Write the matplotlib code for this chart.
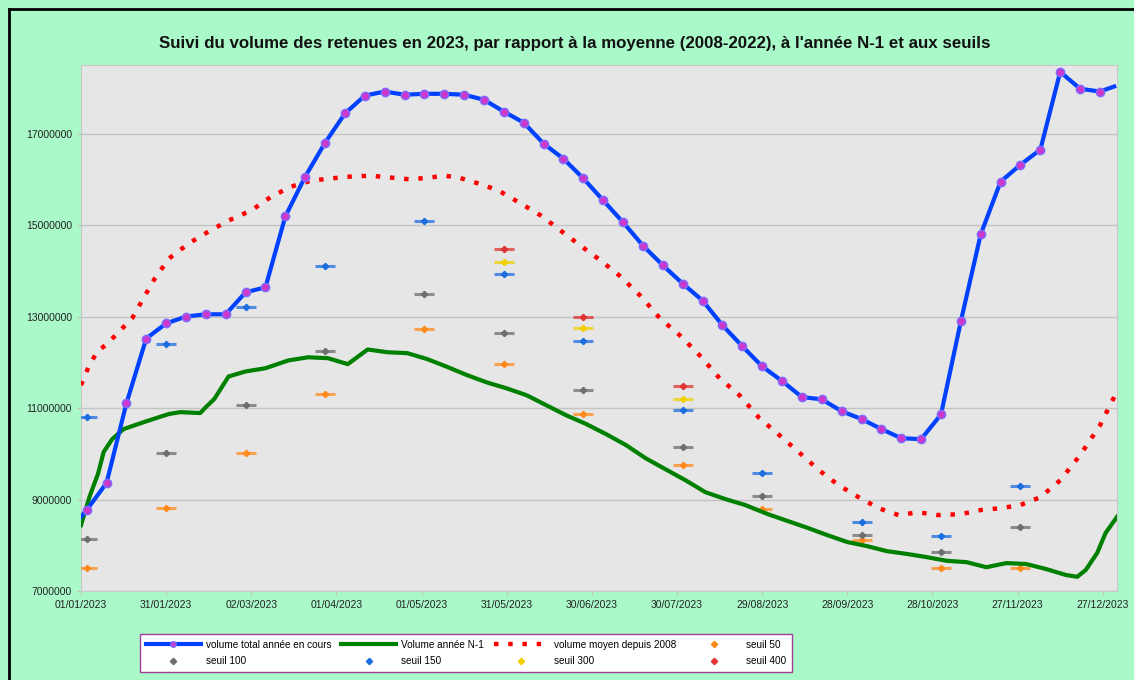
import datetime as dt
import numpy as np
import matplotlib
matplotlib.use("Agg")
import matplotlib.pyplot as plt
from matplotlib.lines import Line2D

plt.rcParams['font.family'] = ['Liberation Sans', 'DejaVu Sans']

# volume total 2023 (weekly readings, day of year from 01/01)
vol_days = [0] + list(range(2, 365, 7)) + [364]
vol_2023 = [8.62, 8.77, 9.36, 11.10, 12.52, 12.85, 13.00, 13.05, 13.05, 13.53, 13.64,
            15.19, 16.06, 16.80, 17.44, 17.83, 17.92, 17.85, 17.87, 17.87, 17.85,
            17.74, 17.48, 17.24, 16.78, 16.45, 16.02, 15.54, 15.06, 14.55, 14.12,
            13.72, 13.35, 12.81, 12.35, 11.91, 11.59, 11.24, 11.19, 10.93, 10.76,
            10.54, 10.34, 10.32, 10.86, 12.90, 14.80, 15.95, 16.32, 16.65, 18.35,
            17.98, 17.92, 18.03]

# volume annee N-1
n1_days = [0, 3, 6, 8, 11, 15, 23, 31, 35, 42, 44, 47, 52, 58, 65, 73, 80, 87, 94,
           101, 108, 115, 122, 129, 136, 143, 150, 157, 164, 171, 178, 185, 192,
           199, 206, 213, 220, 227, 234, 242, 249, 256, 263, 270, 277, 284, 291,
           298, 305, 312, 319, 326, 333, 340, 347, 351, 354, 358, 361, 365]
vol_n1 = [8.44, 9.06, 9.56, 10.04, 10.32, 10.54, 10.71, 10.87, 10.91, 10.89, 11.02,
          11.20, 11.69, 11.80, 11.87, 12.04, 12.11, 12.09, 11.96, 12.28, 12.22,
          12.20, 12.07, 11.90, 11.72, 11.56, 11.43, 11.28, 11.06, 10.84, 10.65,
          10.43, 10.19, 9.90, 9.66, 9.42, 9.16, 9.01, 8.88, 8.68, 8.53, 8.38, 8.22,
          8.07, 7.98, 7.87, 7.81, 7.74, 7.66, 7.63, 7.52, 7.61, 7.59, 7.48, 7.35,
          7.31, 7.46, 7.83, 8.27, 8.62]

# volume moyen 2008-2022
moy_days = [0, 3, 6, 9, 18, 22, 26, 31, 38, 45, 52, 60, 67, 74, 81, 88, 95, 102,
            109, 116, 123, 128, 133, 140, 147, 155, 162, 169, 176, 183, 190, 197,
            204, 211, 218, 225, 232, 239, 246, 253, 260, 267, 274, 281, 288, 295,
            302, 310, 317, 324, 331, 338, 345, 352, 359, 364]
vol_moy = [11.50, 11.95, 12.25, 12.39, 12.96, 13.40, 13.83, 14.27, 14.60, 14.86,
           15.10, 15.32, 15.62, 15.84, 15.97, 16.02, 16.06, 16.08, 16.04, 16.00,
           16.04, 16.08, 16.04, 15.91, 15.76, 15.47, 15.21, 14.88, 14.55, 14.23,
           13.88, 13.46, 12.96, 12.59, 12.15, 11.65, 11.28, 10.78, 10.41, 10.03,
           9.64, 9.31, 9.05, 8.81, 8.66, 8.72, 8.66, 8.68, 8.77, 8.81, 8.88, 9.05,
           9.42, 9.97, 10.62, 11.24]

# seuils mensuels
seuil_days = [2, 30, 58, 86, 121, 149, 177, 212, 240, 275, 303, 331]
nan = np.nan
seuil_50 = [7.50, 8.81, 10.01, 11.30, 12.72, 11.96, 10.86, 9.75, 8.79, 8.11, 7.50, 7.50]
seuil_100 = [8.14, 10.01, 11.06, 12.24, 13.50, 12.63, 11.39, 10.14, 9.07, 8.22, 7.85, 8.40]
seuil_150 = [10.80, 12.41, 13.20, 14.10, 15.10, 13.94, 12.46, 10.95, 9.58, 8.51, 8.20, 9.29]
seuil_300 = [nan, nan, nan, nan, nan, 14.20, 12.74, 11.19, nan, nan, nan, nan]
seuil_400 = [nan, nan, nan, nan, nan, 14.47, 13.00, 11.48, nan, nan, nan, nan]

M = 1e6
fig = plt.figure(figsize=(11.34, 6.8), dpi=100, facecolor='#aaf9c9')
ax = fig.add_axes([0.0714, 0.1309, 0.9136, 0.7735])
ax.set_facecolor('#e6e6e6')

seuils = [(seuil_50, '#ff8a1c', 'seuil 50'), (seuil_100, '#6e6e6e', 'seuil 100'),
          (seuil_150, '#1c6de0', 'seuil 150'), (seuil_300, '#f2d000', 'seuil 300'),
          (seuil_400, '#e03434', 'seuil 400')]
sh = {}
for vals, col, lab in seuils:
    y = np.array(vals) * M
    ax.plot(seuil_days, y, ls='none', marker='_', ms=14, mew=2.2, color=col, alpha=0.75, zorder=3)
    sh[lab], = ax.plot(seuil_days, y, ls='none', marker='D', ms=3.2, color=col,
                       mec=col, label=lab, zorder=3)

h_moy, = ax.plot(moy_days, np.array(vol_moy) * M, color='#ff0000', lw=3.2,
                 ls=(0, (1, 2.2)), label='volume moyen depuis 2008', zorder=4)
h_n1, = ax.plot(n1_days, np.array(vol_n1) * M, color='#008000', lw=3,
                label='Volume année N-1', zorder=5)
ax.plot(vol_days, np.array(vol_2023) * M, color='#0040ff', lw=3, zorder=6)
ax.plot(vol_days[1:-1], np.array(vol_2023[1:-1]) * M, ls='none', marker='o', ms=6,
        mfc='#cc38cc', mec='#7a6cff', mew=1, zorder=7)
h_tot = Line2D([], [], color='#0040ff', lw=3, marker='o', ms=4, mfc='#cc38cc',
               mec='#7a6cff', markevery=[0], label='volume total année en cours')

ax.set_xlim(0, 365)
ax.set_ylim(7 * M, 18.5 * M)
ax.set_yticks(np.arange(7, 18, 2) * M)
ax.set_yticklabels([f"{int(v)}" for v in np.arange(7, 18, 2) * M])
xt = list(range(0, 365, 30))
ax.set_xticks(xt)
ax.set_xticklabels([(dt.date(2023, 1, 1) + dt.timedelta(days=d)).strftime('%d/%m/%Y') for d in xt])
ax.tick_params(labelsize=7.5, colors='#c0c0c0', labelcolor='#222222', length=3)
ax.grid(axis='y', color='#c4c4c4', lw=1)
ax.set_axisbelow(True)
for s in ax.spines.values():
    s.set_color('#c8c8c8')

fig.text(0.507, 0.936, "Suivi du volume des retenues en 2023, par rapport à la moyenne "
         "(2008-2022), à l'année N-1 et aux seuils", ha='center', va='center',
         fontsize=12.2, fontweight='bold', color='#111111')

handles = [h_tot, sh['seuil 100'], h_n1, sh['seuil 150'], h_moy, sh['seuil 300'],
           sh['seuil 50'], sh['seuil 400']]
leg = fig.legend(handles=handles, labels=[h.get_label() for h in handles], ncol=4,
                 loc='lower left', bbox_to_anchor=(0.1235, 0.0118), fontsize=7.2,
                 handlelength=5.5, handletextpad=0.5, columnspacing=1.0,
                 labelspacing=0.65, borderpad=0.55, fancybox=False, framealpha=1,
                 edgecolor='#a0409a', borderaxespad=0)
leg.get_frame().set_linewidth(1)

fig.add_artist(Line2D([9 / 1134, 9 / 1134], [0, 1 - 9 / 680], color='black', lw=2))
fig.add_artist(Line2D([9 / 1134, 1], [1 - 9 / 680, 1 - 9 / 680], color='black', lw=2))

fig.savefig('out.png', dpi=100, facecolor=fig.get_facecolor())
